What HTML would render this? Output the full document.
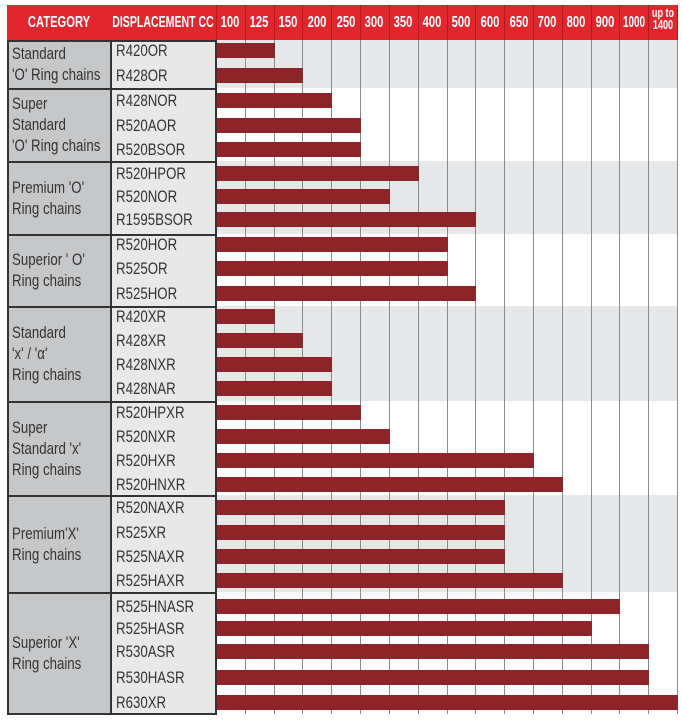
<!DOCTYPE html>
<html><head><meta charset="utf-8"><style>
html,body{margin:0;padding:0;background:#fff;}
body{width:683px;height:720px;position:relative;overflow:hidden;font-family:"Liberation Sans",sans-serif;}
div{position:absolute;box-sizing:border-box;}
.h{color:#fff;font-weight:bold;font-size:16px;line-height:35px;top:5px;height:35px;white-space:nowrap;}
.h span{position:absolute;left:50%;top:0;transform:translateX(-50%) scaleX(0.7);white-space:nowrap;}
.t{color:#333;font-size:17px;white-space:nowrap;transform:scaleX(0.78);transform-origin:0 0;}
.bar{background:#8c2429;height:15px;left:216px;}
.vl{width:1px;background:#8a8a8a;top:40px;height:674px;}
</style></head><body>
<script>
var r=document.body;
function d(s,txt,c){var e=document.createElement('div');e.setAttribute('style',s);if(c)e.className=c;if(txt)e.innerHTML=txt;r.appendChild(e);return e;}
var X=function(i){return 216+i*28.8125;};
var groups=[
 {y:40,h:48,bg:'#e6e7e8',cat:"Standard<br>'O' Ring chains",rows:[["R420OR",2,43],["R428OR",3,68]]},
 {y:88,h:73,bg:'#fff',cat:"Super<br>Standard<br>'O' Ring chains",rows:[["R428NOR",4,93],["R520AOR",5,118],["R520BSOR",5,142]]},
 {y:161,h:73,bg:'#e6e7e8',cat:"Premium 'O'<br>Ring chains",rows:[["R520HPOR",7,166],["R520NOR",6,189],["R1595BSOR",9,212]]},
 {y:234,h:72,bg:'#fff',cat:"Superior ' O'<br>Ring chains",rows:[["R520HOR",8,237],["R525OR",8,261],["R525HOR",9,286]]},
 {y:306,h:95,bg:'#e6e7e8',cat:"Standard<br>'x' / 'α'<br>Ring chains",rows:[["R420XR",2,309],["R428XR",3,333],["R428NXR",4,357],["R428NAR",4,381]]},
 {y:401,h:94,bg:'#fff',cat:"Super<br>Standard 'x'<br>Ring chains",rows:[["R520HPXR",5,405],["R520NXR",6,429],["R520HXR",11,453],["R520HNXR",12,477]]},
 {y:495,h:97,bg:'#e6e7e8',cat:"Premium'X'<br>Ring chains",rows:[["R520NAXR",10,500],["R525XR",10,525],["R525NAXR",10,549],["R525HAXR",12,573]]},
 {y:592,h:121,bg:'#fff',cat:"Superior 'X'<br>Ring chains",rows:[["R525HNASR",14,599],["R525HASR",13,621],["R530ASR",15,644],["R530HASR",15,670],["R630XR",16,695]]}
];
d('left:7px;top:5px;width:671px;height:35px;background:#e1262d;');
d('left:8px;width:102px;','<span>CATEGORY</span>','h');
d('left:110px;width:106px;','<span style="transform:translateX(-50%) scaleX(0.66)">DISPLACEMENT CC</span>','h');
var labs=['100','125','150','200','250','300','350','400','500','600','650','700','800','900','1000'];
for(var i=0;i<labs.length;i++)d('left:'+X(i)+'px;width:28.8px;','<span'+(i==14?' style="transform:translateX(-50%) scaleX(0.62)"':'')+'>'+labs[i]+'</span>','h');
d('left:'+X(15)+'px;width:29px;top:7px;height:30px;color:#fff;font-weight:bold;font-size:13px;line-height:12px;','<span style="position:absolute;left:50%;top:0;transform:translateX(-50%) scaleX(0.7);text-align:center;white-space:nowrap">up to<br>1400</span>');
for(var i=0;i<=16;i++)d('left:'+Math.round(X(i))+'px;top:5px;width:1px;height:35px;background:#b01a20;');
groups.forEach(function(g){
 d('left:7px;top:'+g.y+'px;width:104px;height:'+g.h+'px;background:#c6c7c9;');
 d('left:111px;top:'+g.y+'px;width:105px;height:'+g.h+'px;background:#e8e8e8;');
 d('left:216px;top:'+g.y+'px;width:462px;height:'+g.h+'px;background:'+g.bg+';');
 var n=(g.cat.match(/<br>/g)||[]).length+1;
 d('left:12px;top:'+(g.y+g.h/2-n*10.5)+'px;line-height:21px;',g.cat,'t');
 g.rows.forEach(function(rw){
  d('left:116px;top:'+(rw[2]-3)+'px;line-height:22px;',rw[0],'t');
 });
});
for(var i=0;i<=16;i++)d('left:'+Math.round(X(i))+'px;',null,'vl');
groups.forEach(function(g){
 g.rows.forEach(function(rw){
  d('top:'+rw[2]+'px;width:'+(X(rw[1])-216+1)+'px;',null,'bar');
 });
 d('left:7px;top:'+g.y+'px;width:209px;height:1.5px;background:#333;');
});
d('left:7px;top:713px;width:209px;height:1.5px;background:#333;');
d('left:7px;top:40px;width:1.5px;height:675px;background:#333;');
d('left:110px;top:40px;width:1.5px;height:675px;background:#333;');
d('left:215px;top:40px;width:1.5px;height:675px;background:#333;');
</script>
</body></html>
